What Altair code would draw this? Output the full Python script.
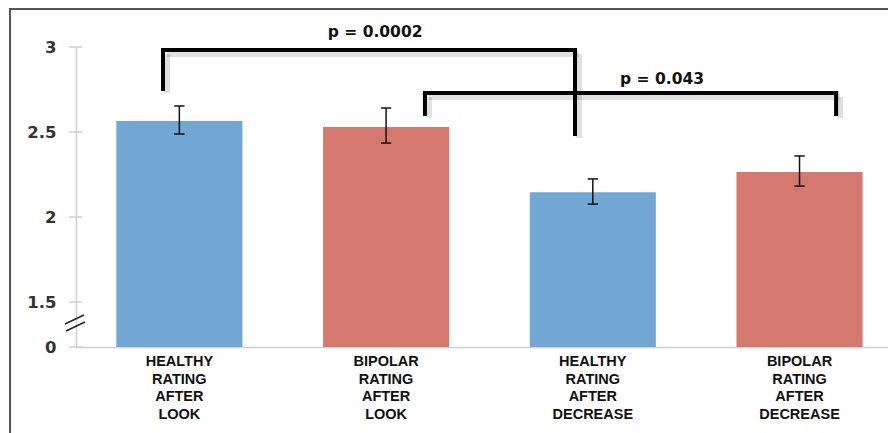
import altair as alt
import pandas as pd

# ---- data ----
labels = ["HEALTHY\nRATING\nAFTER\nLOOK", "BIPOLAR\nRATING\nAFTER\nLOOK",
          "HEALTHY\nRATING\nAFTER\nDECREASE", "BIPOLAR\nRATING\nAFTER\nDECREASE"]
group = ["Healthy", "Bipolar", "Healthy", "Bipolar"]
means = [2.565, 2.53, 2.145, 2.265]
err_low = [2.488, 2.435, 2.076, 2.182]
err_high = [2.653, 2.641, 2.224, 2.359]
y_ticks = [0, 1.5, 2, 2.5, 3]

# significance brackets (x in bar-slot units, y in rating units)
br_label = ["p = 0.0002", "p = 0.043"]
br_x_left = [0.421, 1.688]
br_x_right = [2.414, 3.677]
br_y_top = [2.982, 2.729]
br_y_left_end = [2.753, 2.606]
br_y_right_end = [2.488, 2.606]
br_label_x = [1.447, 2.835]
br_label_y = [3.088, 2.812]

W, H = 812, 300
X_DOMAIN = [0, 3.928]

bars = pd.DataFrame({
    "label": labels, "group": group, "mean": means,
    "lo": err_low, "hi": err_high, "slot": list(range(len(labels))),
})

segs = []
for i in range(len(br_label)):
    segs.append({"x": br_x_left[i], "x2": br_x_right[i], "y": br_y_top[i], "y2": br_y_top[i]})
    segs.append({"x": br_x_left[i], "x2": br_x_left[i], "y": br_y_top[i], "y2": br_y_left_end[i]})
    segs.append({"x": br_x_right[i], "x2": br_x_right[i], "y": br_y_top[i], "y2": br_y_right_end[i]})
segs = pd.DataFrame(segs)
ptext = pd.DataFrame({"t": br_label, "x": br_label_x, "y": br_label_y})
ticks = pd.DataFrame({"v": y_ticks})

xs = alt.Scale(domain=X_DOMAIN, nice=False, zero=False)
ys = alt.Scale(domain=[0, 1.5, 3], range=[H, H - 45, 0], nice=False, zero=False)

base = alt.Chart(bars).transform_calculate(
    c="datum.slot + 0.5",
    x0="datum.slot + 0.5 - 0.305",
    x1="datum.slot + 0.5 + 0.305",
    cl="datum.slot + 0.5 - 0.025",
    cr="datum.slot + 0.5 + 0.025",
)

bar_layer = base.mark_bar(opacity=1).encode(
    x=alt.X("x0:Q", scale=xs, axis=alt.Axis(domain=True, domainColor="#d0d0d0", domainWidth=1.5,
                                            labels=False, ticks=False, grid=False, title=None)),
    x2="x1:Q",
    y=alt.Y("mean:Q", scale=ys, axis=alt.Axis(values=y_ticks, format="~g", domain=True,
                                              domainColor="#d0d0d0", domainWidth=1.5, ticks=False,
                                              grid=False, title=None,
                                              labelFont="DejaVu Sans", labelFontSize=16.5,
                                              labelFontWeight="bold", labelColor="#333333",
                                              labelPadding=20, labelFlush=False)),
    y2=alt.Y2(datum=0),
    color=alt.Color("group:N", scale=alt.Scale(domain=["Healthy", "Bipolar"],
                                               range=["#72a6d3", "#d5786f"]), legend=None),
)

err_v = base.mark_rule(color="#111111", strokeWidth=1.5).encode(
    x=alt.X("c:Q", scale=xs), y=alt.Y("lo:Q", scale=ys), y2="hi:Q")
cap_lo = base.mark_rule(color="#111111", strokeWidth=1.5).encode(
    x=alt.X("cl:Q", scale=xs), x2="cr:Q", y=alt.Y("lo:Q", scale=ys))
cap_hi = base.mark_rule(color="#111111", strokeWidth=1.5).encode(
    x=alt.X("cl:Q", scale=xs), x2="cr:Q", y=alt.Y("hi:Q", scale=ys))

xlab = base.mark_text(font="Liberation Sans", fontSize=14.5, fontWeight="bold",
                      color="#111111", baseline="top", align="center", lineBreak="\n",
                      lineHeight=17.5).encode(
    x=alt.X("c:Q", scale=xs), y=alt.value(H + 8), text="label:N")

tick_layer = alt.Chart(ticks).mark_rule(color="#cfcfcf", strokeWidth=1.5).encode(
    y=alt.Y("v:Q", scale=ys), x=alt.value(-7), x2=alt.value(6))

shadow = alt.Chart(segs).mark_rule(color="#000000", opacity=0.12, strokeWidth=6,
                                   xOffset=4, yOffset=4, x2Offset=4, y2Offset=4).encode(
    x=alt.X("x:Q", scale=xs), x2="x2:Q", y=alt.Y("y:Q", scale=ys), y2="y2:Q")
brackets = alt.Chart(segs).mark_rule(color="#000000", strokeWidth=4, strokeCap="square").encode(
    x=alt.X("x:Q", scale=xs), x2="x2:Q", y=alt.Y("y:Q", scale=ys), y2="y2:Q")
ptext_layer = alt.Chart(ptext).mark_text(font="DejaVu Sans", fontSize=15.5, fontWeight="bold",
                                         color="#111111", baseline="middle", align="center").encode(
    x=alt.X("x:Q", scale=xs), y=alt.Y("y:Q", scale=ys), text="t:N")

brk = pd.DataFrame({"k": [0, 1]})
break1 = alt.Chart(brk).transform_filter("datum.k == 0").mark_rule(color="#222222", strokeWidth=1.5).encode(
    x=alt.value(-11), y=alt.value(277), x2=alt.value(8), y2=alt.value(268))
break2 = alt.Chart(brk).transform_filter("datum.k == 1").mark_rule(color="#222222", strokeWidth=1.5).encode(
    x=alt.value(-10), y=alt.value(284), x2=alt.value(9), y2=alt.value(275))

frame = alt.Chart(brk).transform_filter("datum.k == 0").mark_rect(
    fill="transparent", stroke="#555555", strokeWidth=2).encode(
    x=alt.value(-66), x2=alt.value(W + 20), y=alt.value(-38), y2=alt.value(H + 100))

chart = alt.layer(
    frame, tick_layer, bar_layer, err_v, cap_lo, cap_hi, xlab,
    shadow, brackets, ptext_layer, break1, break2,
).properties(
    width=W, height=H,
    padding={"left": 76, "top": 47, "right": 0, "bottom": 86},
    autosize=alt.AutoSizeParams(type="none"),
    background="white",
).configure_view(stroke=None)

chart.save("out.html", embed_options={"renderer": "svg", "actions": False})
